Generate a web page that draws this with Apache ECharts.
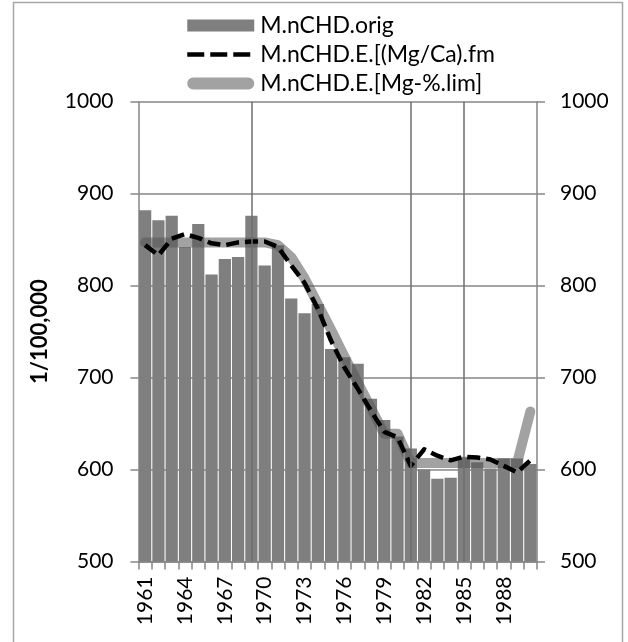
<!DOCTYPE html>
<html>
<head>
<meta charset="utf-8">
<script src="https://cdn.jsdelivr.net/npm/echarts@6/dist/echarts.min.js"></script>
<style>
html,body{margin:0;padding:0;background:#fff;}
#chart{width:628px;height:642px;}
</style>
</head>
<body>
<div id="chart"></div>
<script>
var years = ['1961','1962','1963','1964','1965','1966','1967','1968','1969','1970',
             '1971','1972','1973','1974','1975','1976','1977','1978','1979','1980',
             '1981','1982','1983','1984','1985','1986','1987','1988','1989','1990'];
var origValues = [882,871,876,842,867,812,829,831,876,822,
                  844,786,770,780,731,722,715,677,654,636,
                  623,600,590,591,614,608,601,612,612,606];
var fmValues = [844,833,851,856,852,846,844,847,848,848,
                842,822,803,775,740,711,688,664,641,635,
                604,622,615,610,614,613,611,604,597,610];
var limValues = [847,847,847,847,847,847,847,847,847,847,
                 844,831,808,780,752,723,695,667,639,639,
                 607,607,607,607,607,607,607,607,607,663];
var markedYears = ['1969','1981','1985'];
var yTicks = {min:500, max:1000, interval:100};
var names = ['M.nCHD.orig','M.nCHD.E.[(Mg/Ca).fm','M.nCHD.E.[Mg-%.lim]'];

var gridColor = '#868686';
var limColor = 'rgba(85,85,85,0.55)';
var font = 'Lato';
var noSymbol = {color:'rgba(0,0,0,0)', borderWidth:0, opacity:0};
var capsule = 'path://M6,0L62,0A6,6,0,0,1,62,12L6,12A6,6,0,0,1,6,0Z';
var chart = echarts.init(document.getElementById('chart'));
var option = {
  animation:false,
  backgroundColor:'#ffffff',
  graphic:[{type:'rect', silent:true, shape:{x:13.5,y:2.5,width:609,height:700},
            style:{fill:'none', stroke:'#a6a6a6', lineWidth:1.5}}],
  legend:{
    orient:'vertical', left:180, top:9,
    itemWidth:67, itemHeight:12, itemGap:6,
    textStyle:{fontFamily:font, fontSize:23, color:'#000', lineHeight:23, padding:[0,0,0,1]},
    data:[
      {name:names[0], icon:'rect'},
      {name:names[1], itemStyle:noSymbol, lineStyle:{width:4.5, color:'#000', type:[17,6]}},
      {name:names[2], icon:capsule, itemStyle:{color:limColor}}
    ]
  },
  grid:{left:138.5, right:91, top:101.7, bottom:80.5, containLabel:false},
  xAxis:{
    type:'category', data:years,
    axisLine:{lineStyle:{color:gridColor, width:1.5}},
    axisTick:{show:true, interval:0, length:8, lineStyle:{color:gridColor, width:1.5}},
    axisLabel:{interval:2, rotate:90, margin:15, fontFamily:font, fontSize:21, color:'#000'},
    splitLine:{show:false}
  },
  yAxis:[{
    type:'value', min:yTicks.min, max:yTicks.max, interval:yTicks.interval,
    name:'1/100,000', nameLocation:'middle', nameGap:88, nameRotate:90,
    nameTextStyle:{fontFamily:font, fontSize:22, fontWeight:'bold', color:'#000'},
    axisLine:{show:true, lineStyle:{color:gridColor, width:1.5}},
    axisTick:{show:true, length:8, lineStyle:{color:gridColor, width:1.5}},
    axisLabel:{margin:25, fontFamily:font, fontSize:21, color:'#000',
               formatter:function(v){return String(v);}},
    splitLine:{show:true, lineStyle:{color:gridColor, width:1.5}}
  },{
    type:'value', position:'right', min:yTicks.min, max:yTicks.max, interval:yTicks.interval,
    axisLine:{show:true, lineStyle:{color:gridColor, width:1.5}},
    axisTick:{show:true, length:8, lineStyle:{color:gridColor, width:1.5}},
    axisLabel:{margin:23, fontFamily:font, fontSize:21, color:'#000',
               formatter:function(v){return String(v);}},
    splitLine:{show:false}
  }],
  series:[{
    name:names[0], type:'bar', data:origValues, barCategoryGap:'8%',
    itemStyle:{color:'#7f7f7f'},
    markLine:{silent:true, symbol:'none', label:{show:false},
      lineStyle:{type:'solid', color:'#6e6e6e', width:1.5},
      data:markedYears.map(function(y){return {xAxis:y};})}
  },{
    name:names[2], type:'line', data:limValues, symbol:'none', z:3,
    itemStyle:{color:limColor},
    lineStyle:{color:limColor, width:10, cap:'round', join:'round'}
  },{
    name:names[1], type:'line', data:fmValues, symbol:'none', z:4,
    itemStyle:{color:'#000'},
    lineStyle:{color:'#000', width:4.5, type:[13,6], cap:'butt', join:'round'}
  }]
};
chart.setOption(option);
</script>
</body>
</html>
